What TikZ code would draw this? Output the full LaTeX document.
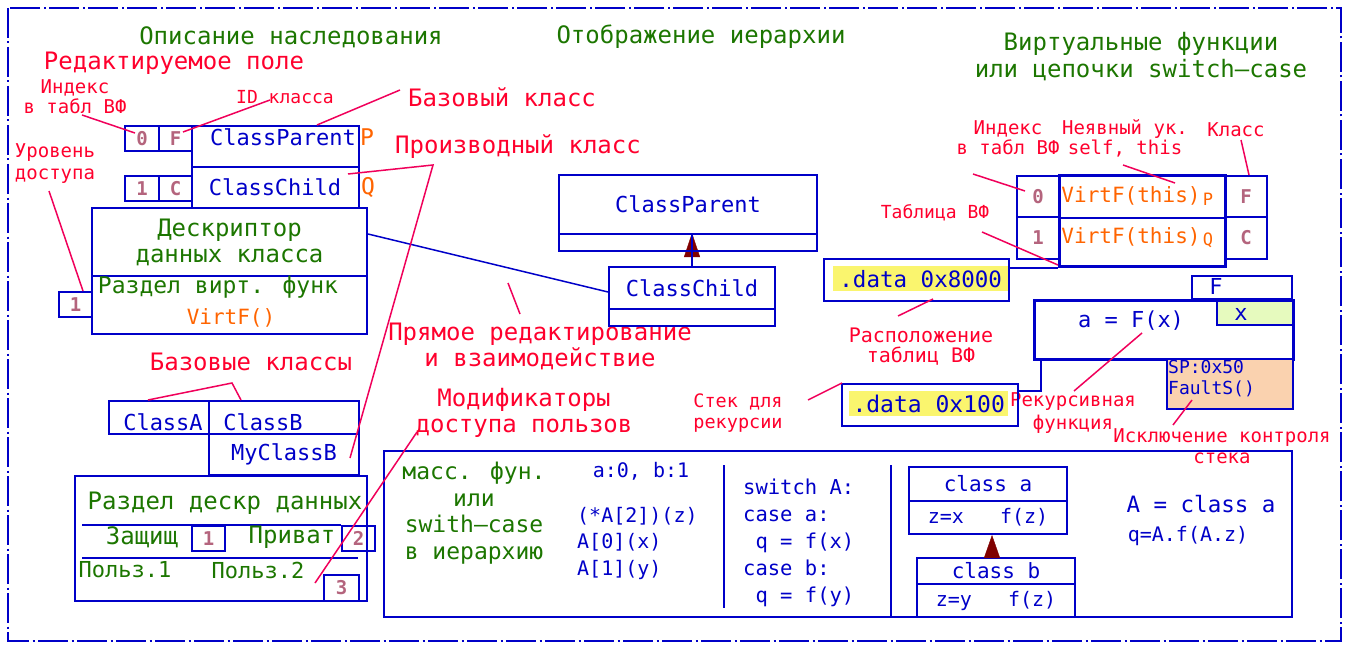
\documentclass[tikz,border=0pt]{standalone}
\usepackage{fontspec}
\setmainfont{DejaVu Sans Mono}
\usetikzlibrary{arrows.meta,backgrounds}
\definecolor{cblue}{RGB}{0,0,200}
\definecolor{cgreen}{RGB}{28,118,0}
\definecolor{cred}{RGB}{255,0,45}
\definecolor{clead}{RGB}{240,0,90}
\definecolor{corange}{RGB}{255,100,0}
\definecolor{cmauve}{RGB}{180,100,125}
\definecolor{cdark}{RGB}{128,0,0}
\definecolor{cyel}{RGB}{250,245,110}
\definecolor{cmint}{RGB}{230,250,190}
\definecolor{cpeach}{RGB}{250,210,175}
\begin{document}
\begin{tikzpicture}[x=1pt,y=-1pt,
  sz/.style 2 args={font=\fontsize{#1}{#2}\selectfont},
  txt/.style={inner sep=0pt,align=center},
  ttl/.style={txt,text=cgreen,sz={24}{27}},
  lbl/.style={txt,text=cred,sz={24}{26}},
  sml/.style={txt,text=cred,sz={19}{21}},
  cls/.style={txt,text=cblue,sz={22}{26}},
  grn/.style={txt,text=cgreen,sz={24}{26}},
  org/.style={txt,text=corange,sz={20}{24}},
  code/.style={txt,text=cblue,sz={20}{27}},
  num/.style={txt,text=cmauve,font=\fontsize{19}{20}\selectfont\bfseries},
  bx/.style={draw=cblue,line width=2pt,anchor=north west,inner sep=0pt},
  thk/.style={bx,line width=3pt},
  lead/.style={draw=clead,line width=1.5pt},
  wire/.style={draw=cblue,line width=2pt}]
\useasboundingbox (0,0) rectangle (1348,647);
\draw[cblue,line width=2pt,dash pattern=on 30pt off 3.5pt on 2pt off 3.5pt] (8,8) rectangle (1341,641);

\node[ttl] (t1) at (291,37) {Описание наследования};
\node[ttl] (t2) at (701,37) {Отображение иерархии};
\node[ttl] (t3) at (1141,57) {Виртуальные функции\\или цепочки switch—case};

\node[lbl] (l1) at (174,63) {Редактируемое поле};
\node[lbl] (l2) at (502,97) {Базовый класс};
\node[lbl] (l3) at (518,147) {Производный класс};
\node[lbl] (l4) at (540,346) {Прямое редактирование\\и взаимодействие};
\node[lbl] (l5) at (251,362) {Базовые классы};
\node[lbl] (l6) at (524,413) {Модификаторы\\доступа пользов};

\node[sml,sz={19}{20}] (s1) at (75,97) {Индекс\\в табл ВФ};
\node[sml,sz={18}{20}] (s2) at (285,97) {ID класса};
\node[sml,sz={19}{22}] (s3) at (55,164) {Уровень\\доступа};
\node[sml,sz={19}{20}] (s4) at (1008,138) {Индекс\\в табл ВФ};
\node[sml,sz={19}{20}] (s5) at (1125,138) {Неявный ук.\\self, this};
\node[sml] (s6) at (1236,130) {Класс};
\node[sml,sz={18}{21}] (s7) at (935,213) {Таблица ВФ};
\node[sml,sz={20}{20}] (s8) at (921,347) {Расположение\\таблиц ВФ};
\node[sml,sz={18.5}{21}] (s9) at (738,413) {Стек для\\рекурсии};
\node[sml,sz={19}{23}] (s10) at (1073,413) {Рекурсивная\\функция};
\node[sml] (s11) at (1222,446) {Исключение контроля\\стека};

% inheritance description
\node[bx,num,minimum width=34pt,minimum height=25pt] (i0) at (124,125) {0};
\node[bx,num,minimum width=33pt,minimum height=25pt] (iF) at (158,125) {F};
\node[bx,minimum width=167pt,minimum height=41pt] (cp) at (191,125) {};
\node[bx,num,minimum width=34pt,minimum height=25pt] (i1) at (124,175) {1};
\node[bx,num,minimum width=33pt,minimum height=25pt] (iC) at (158,175) {C};
\node[bx,minimum width=167pt,minimum height=41pt] (cc) at (191,166) {};
\node[cls] (cpT) at (283,137) {ClassParent};
\node[cls] (ccT) at (275,187) {ClassChild};
\node[org,sz={23}{24}] (cpP) at (367,137) {P};
\node[org,sz={23}{24}] (ccQ) at (368,187) {Q};
\node[bx,grn,minimum width=275pt,minimum height=68pt] (dd) at (91,207) {Дескриптор\\данных класса};
\node[bx,minimum width=275pt,minimum height=58pt] (dv) at (91,275) {};
\node[bx,num,minimum width=33pt,minimum height=25pt] (n1) at (58,291) {1};
\node[grn,sz={23}{26}] (dvT) at (218,287) {Раздел вирт. функ};
\node[org,sz={21}{24}] (vfT) at (231,318) {VirtF()};

\node[bx,minimum width=100pt,minimum height=33pt] (ca) at (108,400) {};
\node[bx,minimum width=150pt,minimum height=33pt] (cb) at (208,400) {};
\node[bx,minimum width=150pt,minimum height=41pt] (mb) at (208,433) {};
\node[cls] (caT) at (163,422) {ClassA};
\node[cls] (cbT) at (263,422) {ClassB};
\node[cls] (mbT) at (284,454) {MyClassB};
\node[bx,minimum width=292pt,minimum height=125pt] (dsc) at (74,475) {};
\node[grn] (dscT) at (225,503) {Раздел дескр данных};
\node[bx,num,minimum width=33pt,minimum height=25pt] (b1) at (191,525) {1};
\node[bx,num,minimum width=33pt,minimum height=25pt] (b2) at (341,525) {2};
\node[bx,num,minimum width=35pt,minimum height=26pt] (b3) at (323,574) {3};
\draw[wire] (82,525) -- (b2.north west);
\draw[wire] (82,558) -- (358,558);
\node[grn] (zT) at (142,537) {Защищ};
\node[grn] (pT) at (292,537) {Приват};
\node[grn,sz={22}{26}] (u1T) at (125,570) {Польз.1};
\node[grn,sz={22}{26}] (u2T) at (258,570) {Польз.2};

% hierarchy
\node[bx,cls,minimum width=258pt,minimum height=59pt] (pp) at (558,174) {ClassParent};
\node[bx,minimum width=258pt,minimum height=17pt] (pp2) at (558,233) {};
\node[bx,cls,minimum width=166pt,minimum height=42pt] (ch) at (608,266) {ClassChild};
\node[bx,minimum width=166pt,minimum height=17pt] (ch2) at (608,308) {};
\begin{scope}[on background layer]
\draw[cdark,-{Triangle[width=16pt,length=24pt]}] (ch.north) -- (ch.north |- pp2.north);
\end{scope}
\draw[wire] (ch.north) -- (ch.north |- pp2.north);
\draw[cblue,line width=1.5pt] ([yshift=8pt]dd.east) -- ([yshift=-4pt]ch.west);

% virtual functions
\node[txt,anchor=north west,fill=cyel,minimum width=175pt,minimum height=25pt,text=cblue,sz={22.5}{25}] (d1h) at (833,266) {.data 0x8000};
\node[bx,minimum width=185pt,minimum height=42pt] (d1) at (823,258) {};
\node[txt,anchor=north west,fill=cyel,minimum width=159pt,minimum height=25pt,text=cblue,sz={23}{25}] (d2h) at (849,391) {.data 0x100};
\node[bx,minimum width=176pt,minimum height=42pt] (d2) at (841,383) {};

\node[bx,num,minimum width=42pt,minimum height=41pt] (x0) at (1016,175) {0};
\node[bx,num,minimum width=42pt,minimum height=42pt] (x1) at (1016,216) {1};
\node[bx,num,minimum width=42pt,minimum height=41pt] (k0) at (1224,175) {F};
\node[bx,num,minimum width=42pt,minimum height=42pt] (k1) at (1224,216) {C};
\node[thk,minimum width=166pt,minimum height=91pt] (fb) at (1058,174) {};
\draw[wire] (x0.south east) -- (k0.south west);
\node[org,sz={21}{24}] (f0T) at (1131,196) {VirtF(this)};
\node[org,sz={17}{20}] (f0P) at (1208,199) {P};
\node[org,sz={21}{24}] (f1T) at (1131,237) {VirtF(this)};
\node[org,sz={17}{20}] (f1Q) at (1208,240) {Q};
\draw[wire] (fb.south west) -- (fb.south west -| d1.east);

\node[bx,minimum width=100pt,minimum height=23pt] (fF) at (1191,275) {};
\node[cls] (fFT) at (1216,286) {F};
\node[bx,fill=cmint,minimum width=76pt,minimum height=25pt] (xb) at (1216,299) {};
\node[thk,minimum width=259pt,minimum height=59pt] (mn) at (1033,299) {};
\node[cls] (mnT) at (1131,321) {a = F(x)};
\node[cls] (xbT) at (1241,314) {x};
\node[bx,fill=cpeach,minimum width=126pt,minimum height=50pt] (sp) at (1166,358) {};
\node[code,sz={18}{21},align=left,anchor=west] (spT) at (1168,379) {SP:0x50\\FaultS()};
\draw[wire] ([xshift=8pt]mn.south west) |- ([yshift=14pt]d2.east);

% dispatch variants
\node[bx,minimum width=908pt,minimum height=166pt] (bot) at (383,450) {};
\node[grn,sz={23}{26.7}] (mT) at (474,513) {масс. фун.\\или\\swith—case\\в иерархию};
\node[code] (abT) at (641,471) {a:0, b:1};
\node[code,sz={20}{26.5},align=left,anchor=west] (arT) at (577,543) {(*A[2])(z)\\A[0](x)\\A[1](y)};
\draw[wire] (724,465) -- (724,608);
\node[code,sz={20.5}{27},align=left,anchor=west] (swT) at (743,543) {switch A:\\case a:\\\ q = f(x)\\case b:\\\ q = f(y)};
\draw[wire] (891,465) -- (891,616);
\node[bx,code,sz={21}{24},minimum width=158pt,minimum height=34pt] (ka1) at (908,466) {class a};
\node[bx,code,minimum width=158pt,minimum height=33pt] (ka2) at (908,500) {z=x\ \ \ f(z)};
\node[bx,code,sz={21}{24},minimum width=158pt,minimum height=26pt] (kb1) at (916,557) {class b};
\node[bx,code,minimum width=158pt,minimum height=33pt] (kb2) at (916,583) {z=y\ \ \ f(z)};
\draw[cdark,-{Triangle[width=16pt,length=23pt]}] ([xshift=-4pt]kb1.north) -- ([xshift=4pt]ka2.south);
\node[code,sz={22.5}{26}] (eqT) at (1201,504) {A = class a};
\node[code] (qT) at (1188,536) {q=A.f(A.z)};

% leaders
\coordinate (a1) at (82,115);   \coordinate (e1) at (135,133);
\coordinate (a2) at (270,100);  \coordinate (e2) at (183,132);
\coordinate (a3) at (400,90);   \coordinate (e3) at (317,125);
\coordinate (a4) at (348,174);  \coordinate (k4) at (433,165); \coordinate (e4) at (350,458);
\coordinate (a5) at (49,191);   \coordinate (e5) at (83,291);
\coordinate (a6) at (520,314);  \coordinate (e6) at (508,283);
\coordinate (a7) at (148,400);  \coordinate (k7) at (232,383); \coordinate (e7) at (241,400);
\coordinate (a8) at (417,432);  \coordinate (e8) at (315,583);
\coordinate (a9) at (973,174);  \coordinate (e9) at (1025,191);
\coordinate (a10) at (1123,165); \coordinate (e10) at (1175,183);
\coordinate (a11) at (1241,140); \coordinate (e11) at (1249,175);
\coordinate (a12) at (982,232);  \coordinate (e12) at (1058,265);
\coordinate (a13) at (898,316);  \coordinate (e13) at (933,299);
\coordinate (a14) at (808,400);  \coordinate (e14) at (842,383);
\coordinate (a15) at (1074,391); \coordinate (e15) at (1142,333);
\coordinate (a16) at (1173,425); \coordinate (e16) at (1192,400);
\draw[lead] (a1) -- (e1);
\draw[lead] (a2) -- (e2);
\draw[lead] (a3) -- (e3);
\draw[lead] (a4) -- (k4) -- (e4);
\draw[lead] (a5) -- (e5);
\draw[lead] (a6) -- (e6);
\draw[lead] (a7) -- (k7) -- (e7);
\draw[lead] (a8) -- (e8);
\draw[lead] (a9) -- (e9);
\draw[lead] (a10) -- (e10);
\draw[lead] (a11) -- (e11);
\draw[lead] (a12) -- (e12);
\draw[lead] (a13) -- (e13);
\draw[lead] (a14) -- (e14);
\draw[lead] (a15) -- (e15);
\draw[lead] (a16) -- (e16);
\end{tikzpicture}
\end{document}
